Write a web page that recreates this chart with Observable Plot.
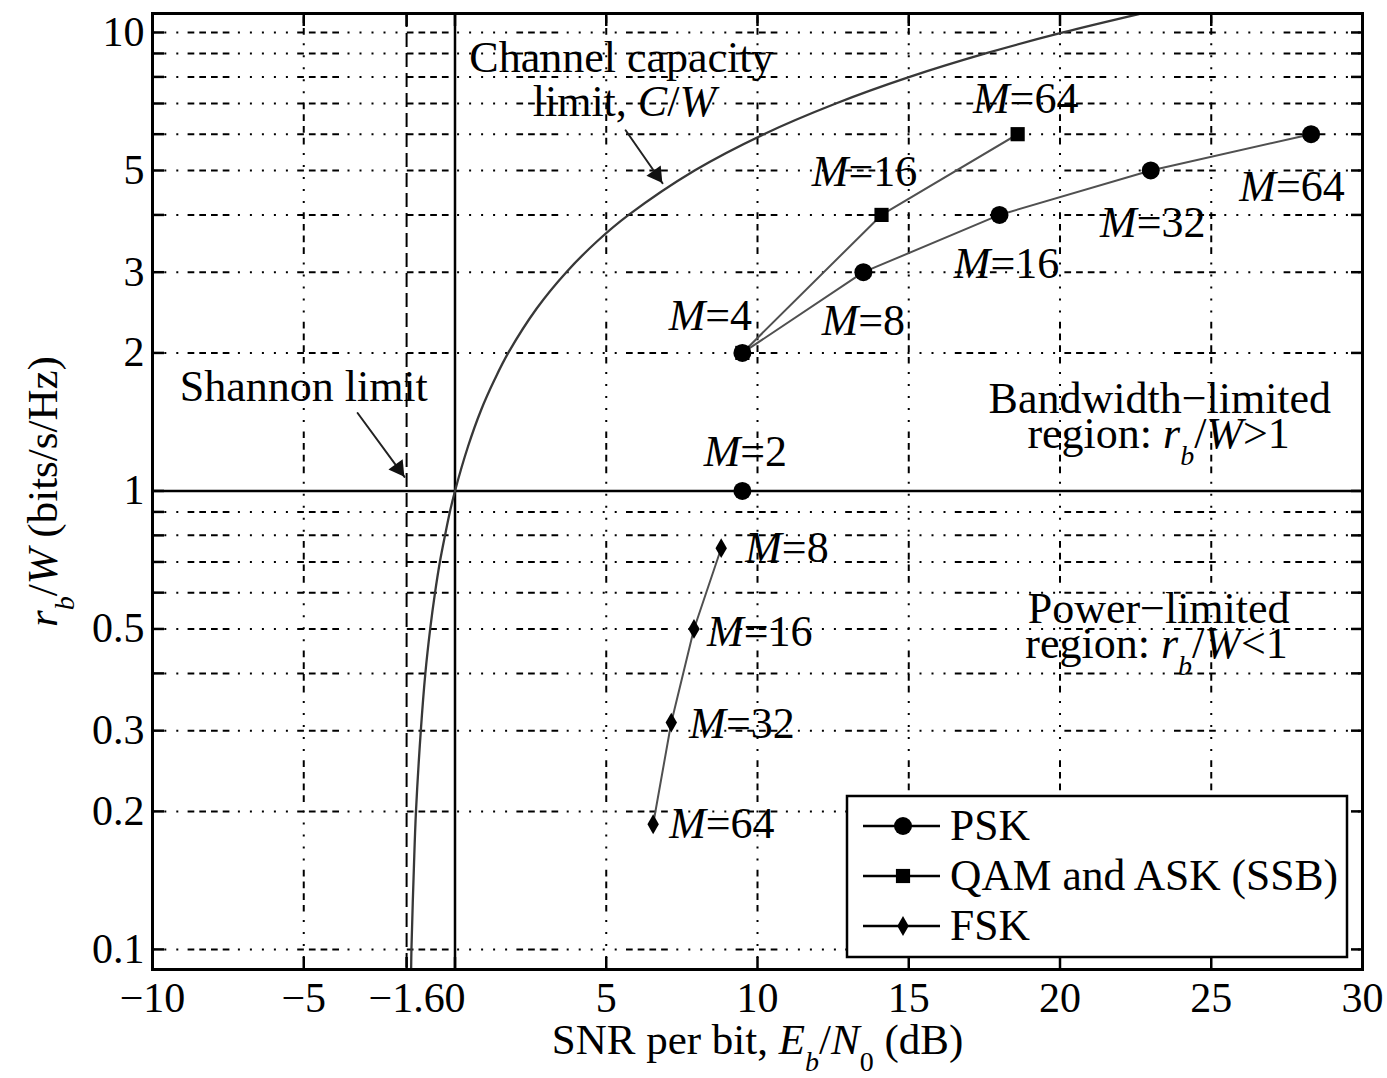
<!DOCTYPE html>
<html>
<head>
<meta charset="utf-8">
<script src="https://cdn.jsdelivr.net/npm/d3@7"></script>
<script src="https://cdn.jsdelivr.net/npm/@observablehq/plot@0.6"></script>
<style>
  body { margin: 0; background: #fff; }
  #chart { width: 1387px; height: 1078px; }
</style>
</head>
<body>
<div id="chart"></div>
<script>
// ---------- data ----------
const xTicks = [-10, -5, -1.6, 0, 5, 10, 15, 20, 25, 30];
const yTicks = [0.1, 0.2, 0.3, 0.5, 1, 2, 3, 5, 10];
const yGrid = [0.1, 0.2, 0.3, 0.4, 0.5, 0.6, 0.7, 0.8, 0.9, 2, 3, 4, 5, 6, 7, 8, 9, 10];
const yMinorTicks = [0.1, 0.2, 0.3, 0.4, 0.5, 0.6, 0.7, 0.8, 0.9, 1, 2, 3, 4, 5, 6, 7, 8, 9, 10];
const xGrid = [-5, 5, 10, 15, 20, 25];

// channel capacity limit C/W
const capRate = [0.09, 0.1, 0.15, 0.2, 0.3, 0.4, 0.5, 0.6, 0.7, 0.8, 0.9, 1, 1.25, 1.5, 1.75, 2, 2.5, 3, 3.5, 4, 5, 6, 7, 8, 9, 10, 11, 11.2];
const capSnr  = [-1.45, -1.44, -1.36, -1.29, -1.13, -0.98, -0.82, -0.66, -0.50, -0.33, -0.17, 0, 0.43, 0.86, 1.31, 1.76, 2.70, 3.68, 4.69, 5.74, 7.92, 10.21, 12.59, 15.03, 17.54, 20.10, 22.70, 23.22];

// PSK
const pskM    = [2, 4, 8, 16, 32, 64];
const pskSnr  = [9.5, 9.5, 13.5, 18.0, 23.0, 28.3];
const pskRate = [1, 2, 3, 4, 5, 6];
// QAM and ASK (SSB)
const qamM    = [4, 16, 64];
const qamSnr  = [9.5, 14.1, 18.6];
const qamRate = [2, 4, 6];
// FSK
const fskM    = [8, 16, 32, 64];
const fskSnr  = [8.8, 7.9, 7.15, 6.55];
const fskRate = [0.75, 0.5, 0.3125, 0.1875];

// annotations
const noteText = ["Channel capacity", "limit, *C*/*W*", "Shannon limit",
  "Bandwidth\u2212limited", "region: *r*~b~/*W*>1", "Power\u2212limited", "region: *r*~b~/*W*<1"];
const noteX = [5.5, 5.6, -5.0, 23.3, 23.26, 23.26, 23.19];
const noteY = [8.82, 7.04, 1.685, 1.586, 1.331, 0.553, 0.464];
const arrowX1 = [5.64, -3.22];
const arrowY1 = [6.12, 1.479];
const arrowX2 = [6.86, -1.67];
const arrowY2 = [4.69, 1.073];
const legendNames = ["PSK", "QAM and ASK (SSB)", "FSK"];

// ---------- build ----------
const FS_TICK = 42, FS = 44, FS_LEG = 43.5, FS_AXIS = 43;
const SERIF = "'Liberation Serif', 'DejaVu Serif', serif";
const gridDash = "6.7,5,6.7,5,6.7,5,6.7,8.5,2,10,2,10,2,10,2,10,2,9.3";
const idx = a => a.map((_, i) => i);
const fmtX = d => d < 0 ? "\u2212" + Math.abs(d) : String(d);

const psk = idx(pskM).map(i => ({M: pskM[i], x: pskSnr[i], y: pskRate[i]}));
const qam = idx(qamM).map(i => ({M: qamM[i], x: qamSnr[i], y: qamRate[i]}));
const fsk = idx(fskM).map(i => ({M: fskM[i], x: fskSnr[i], y: fskRate[i]}));
const cap = idx(capRate).map(i => ({x: capSnr[i], y: capRate[i]}));
const notes = idx(noteText).map(i => ({x: noteX[i], y: noteY[i], t: noteText[i]}));
const arrows = idx(arrowX1).map(i => ({x1: arrowX1[i], y1: arrowY1[i], x2: arrowX2[i], y2: arrowY2[i]}));

const textStyle = {fontSize: FS, fontFamily: SERIF, fill: "black"};
function mLabel(series, i, opts) {
  return Plot.text([series[i]], {x: "x", y: "y", text: d => `*M*=${d.M}`, ...textStyle, ...opts});
}

const lineStyle = {x: "x", y: "y", stroke: "#505050", strokeWidth: 2};

const svg = Plot.plot({
  width: 1387,
  height: 1078,
  marginLeft: 152,
  marginRight: 25,
  marginTop: 13,
  marginBottom: 109,
  style: {fontFamily: SERIF, fontSize: FS_TICK + "px", background: "white", color: "black"},
  x: {domain: [-10, 30]},
  y: {type: "log", domain: [0.0904, 11.0]},
  marks: [
    // grid
    Plot.ruleY(yGrid, {stroke: "black", strokeWidth: 2, strokeDasharray: gridDash, strokeDashoffset: 74}),
    Plot.ruleX(xGrid, {stroke: "black", strokeWidth: 2, strokeDasharray: gridDash, strokeDashoffset: 20}),
    Plot.ruleY([1], {stroke: "black", strokeWidth: 2.5}),
    Plot.ruleX([0], {stroke: "black", strokeWidth: 2.5}),
    Plot.ruleX([-1.6], {stroke: "black", strokeWidth: 2, strokeDasharray: "14,6"}),
    // axes: labels
    Plot.axisX(xTicks, {anchor: "bottom", tickSize: 0, tickPadding: 13, tickFormat: fmtX, label: null, fontFamily: SERIF}),
    Plot.axisY(yTicks, {anchor: "left", tickSize: 0, tickPadding: 8, tickFormat: d => String(d), label: null, fontFamily: SERIF}),
    // axes: inward ticks
    Plot.axisX(xTicks, {anchor: "bottom", tickSize: 12, inset: 12, strokeWidth: 2.5, fill: "none", tickFormat: () => "", label: null}),
    Plot.axisX(xTicks, {anchor: "top", tickSize: 12, inset: 12, strokeWidth: 2.5, fill: "none", tickFormat: () => "", label: null}),
    Plot.axisY(yMinorTicks, {anchor: "left", tickSize: 12, inset: 12, strokeWidth: 2.5, fill: "none", tickFormat: () => "", label: null}),
    Plot.axisY(yMinorTicks, {anchor: "right", tickSize: 12, inset: 12, strokeWidth: 2.5, fill: "none", tickFormat: () => "", label: null}),
    // capacity curve
    Plot.line(cap, {x: "x", y: "y", stroke: "#383838", strokeWidth: 2.3, curve: "catmull-rom", clip: true}),
    // series lines
    Plot.line(psk.filter(d => d.M >= 4), lineStyle),
    Plot.line(qam, lineStyle),
    Plot.line(fsk, lineStyle),
    // markers
    Plot.dot(psk, {x: "x", y: "y", symbol: "circle", r: 9, fill: "black"}),
    Plot.dot(qam, {x: "x", y: "y", symbol: "square", r: 8, fill: "black"}),
    Plot.dot(fsk, {x: "x", y: "y", symbol: "diamond", r: 6, fill: "black"}),
    // M labels
    mLabel(psk, 0, {dx: 3, dy: -39}),
    mLabel(psk, 1, {dx: -32, dy: -37}),
    mLabel(psk, 2, {dx: 0, dy: 49}),
    mLabel(psk, 3, {dx: 7, dy: 49}),
    mLabel(psk, 4, {dx: 2, dy: 52}),
    mLabel(psk, 5, {dx: -19, dy: 53}),
    mLabel(qam, 1, {dx: -17, dy: -43}),
    mLabel(qam, 2, {dx: 8, dy: -35}),
    mLabel(fsk, 0, {dx: 24, dy: 0, textAnchor: "start"}),
    mLabel(fsk, 1, {dx: 13, dy: 3, textAnchor: "start"}),
    mLabel(fsk, 2, {dx: 18, dy: 1, textAnchor: "start"}),
    mLabel(fsk, 3, {dx: 16, dy: 0, textAnchor: "start"}),
    // annotations
    Plot.text(notes, {x: "x", y: "y", text: "t", ...textStyle}),
    Plot.arrow(arrows, {x1: "x1", y1: "y1", x2: "x2", y2: "y2", stroke: "#222", strokeWidth: 2, headLength: 0}),
    Plot.dot(arrows, {x: "x2", y: "y2", symbol: "triangle", r: 6.5, fill: "#111",
      rotate: d => 180 - 35.5, dx: -6, dy: -8.5}),
    // axis titles
    Plot.text(["SNR per bit, *E*~b~/*N*_0_ (dB)"], {frameAnchor: "bottom", lineAnchor: "middle", textAnchor: "middle", dy: 71, text: d => d, ...textStyle, fontSize: FS_AXIS}),
    Plot.text(["*r*~b~/*W* (bits/s/Hz)"], {frameAnchor: "left", lineAnchor: "middle", textAnchor: "middle", dx: -109, rotate: -90, text: d => d, ...textStyle, fontSize: FS_AXIS}),
    Plot.frame({stroke: "black", strokeWidth: 3})
  ]
});

// rich text: *italic*, ~italic subscript~, _upright subscript_
const SUB_SIZE = 28, SUB_SHIFT = 17;
svg.querySelectorAll("text").forEach(el => {
  const s = el.textContent;
  if (!/[*~_]/.test(s)) return;
  el.textContent = "";
  const parts = s.split(/(\*[^*]+\*|~[^~]+~|_[^_]+_)/).filter(p => p.length);
  let shift = 0;
  for (const p of parts) {
    const t = document.createElementNS("http://www.w3.org/2000/svg", "tspan");
    let txt = p, italic = false, sub = false;
    if (p[0] === "*") { txt = p.slice(1, -1); italic = true; }
    else if (p[0] === "~") { txt = p.slice(1, -1); italic = true; sub = true; }
    else if (p[0] === "_") { txt = p.slice(1, -1); sub = true; }
    if (italic) t.setAttribute("font-style", "italic");
    if (sub) {
      t.setAttribute("font-size", SUB_SIZE);
      t.setAttribute("dy", SUB_SHIFT - shift);
      shift = SUB_SHIFT;
    } else if (shift) {
      t.setAttribute("dy", -shift);
      shift = 0;
    }
    t.textContent = txt;
    el.appendChild(t);
  }
});

// legend (inside plot, lower right)
const lg = d3.select(svg).append("g").attr("font-family", SERIF).attr("font-size", FS_LEG)
  .attr("text-anchor", "start");
lg.append("rect").attr("x", 847).attr("y", 796).attr("width", 500).attr("height", 161)
  .attr("fill", "white").attr("stroke", "black").attr("stroke-width", 2.5);
const legendSymbols = [[d3.symbolCircle, 9], [d3.symbolSquare, 8], [d3.symbolDiamond, 6]];
legendNames.forEach((name, i) => {
  const cy = 826 + 50 * i;
  lg.append("line").attr("x1", 863).attr("x2", 940).attr("y1", cy).attr("y2", cy)
    .attr("stroke", "black").attr("stroke-width", 2.5);
  const [sym, r] = legendSymbols[i];
  lg.append("path").attr("d", d3.symbol(sym, Math.PI * r * r)()).attr("transform", `translate(903,${cy})`).attr("fill", "black");
  lg.append("text").attr("x", 950).attr("y", cy + 14).attr("fill", "black")
    .attr("text-anchor", "start").attr("font-family", SERIF).text(name);
});

document.getElementById("chart").appendChild(svg);
</script>
</body>
</html>
